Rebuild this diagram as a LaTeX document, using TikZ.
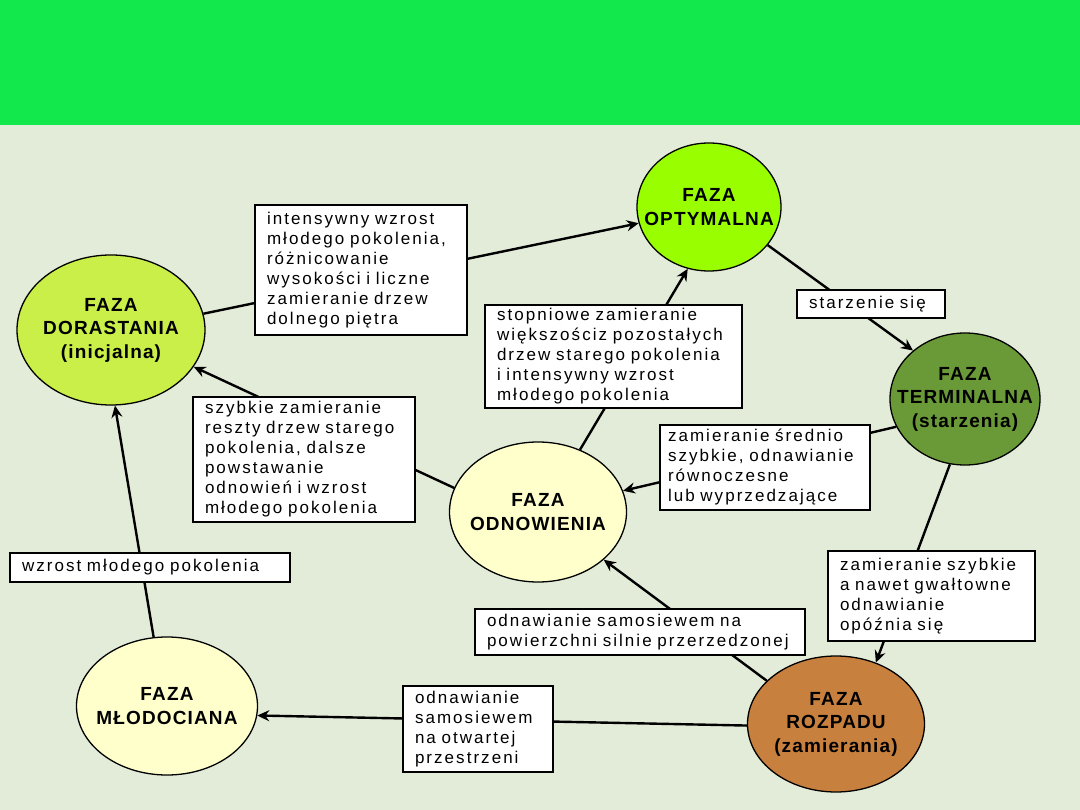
\documentclass[tikz,border=0pt]{standalone}
\usepackage{fontspec}
\setmainfont{Liberation Sans}
\newfontfamily\boxfont[LetterSpace=12,WordSpace=1.6]{Liberation Sans}
\newfontfamily\titlefont[LetterSpace=6]{Liberation Sans}
\usetikzlibrary{shapes.geometric,arrows.meta}
\definecolor{hdr}{HTML}{12E84C}
\definecolor{bgc}{HTML}{E3ECD8}
\definecolor{optc}{HTML}{99FF00}
\definecolor{dorc}{HTML}{C9EF48}
\definecolor{termc}{HTML}{6A9A38}
\definecolor{paleyel}{HTML}{FFFFCC}
\definecolor{rozc}{HTML}{C8803E}
\newcommand\zw[1]{\makebox[0pt]{#1}}
\tikzset{
  phase/.style={ellipse, draw=black, line width=1.3pt, inner sep=0pt, align=center,
    font=\titlefont\bfseries\fontsize{19}{23.5}\selectfont},
  infobox/.style={rectangle, draw=black, line width=1.4pt, fill=white, align=left,
    inner xsep=12pt, inner ysep=0pt, font=\boxfont\fontsize{17}{20}\selectfont,
    execute at begin node={\hyphenpenalty=10000\exhyphenpenalty=10000}},
  conn/.style={line width=2.4pt, draw=black},
  arr/.style={conn, -{Stealth[length=12pt,width=11pt,inset=4pt]}}
}
\begin{document}
\begin{tikzpicture}[x=1pt,y=-1pt]
\useasboundingbox (0,0) rectangle (1080,810);
\fill[bgc] (0,0) rectangle (1080,810);
\fill[hdr] (0,0) rectangle (1080,125);

% phases
\node[phase, fill=optc, minimum width=144pt, minimum height=128pt] (opt) at (709,207) {\zw{FAZA}\\\zw{OPTYMALNA}};
\node[phase, fill=dorc, minimum width=188pt, minimum height=150pt] (dor) at (111,330) {\zw{FAZA}\\\zw{DORASTANIA}\\\zw{(inicjalna)}};
\node[phase, fill=termc, minimum width=150pt, minimum height=132pt] (term) at (965,399) {\zw{FAZA}\\\zw{TERMINALNA}\\\zw{(starzenia)}};
\node[phase, fill=paleyel, minimum width=177pt, minimum height=140pt] (odn) at (538,512) {\zw{FAZA}\\\zw{ODNOWIENIA}};
\node[phase, fill=paleyel, minimum width=181pt, minimum height=138pt] (mlo) at (167,706) {\zw{FAZA}\\\zw{MŁODOCIANA}};
\node[phase, fill=rozc, minimum width=177pt, minimum height=136pt] (roz) at (836,724) {\zw{FAZA}\\\zw{ROZPADU}\\\zw{(zamierania)}};

% connectors
\draw[arr] (dor.10) -- (opt.193);
\draw[arr] (opt.-33) -- (term.137);
\draw[arr] (term.202) -- (odn.14);
\draw[arr] (term.257) -- (roz.57);
\draw[arr] (roz.148) -- (odn.-36);
\draw[arr] (roz.181) -- (mlo.-6);
\draw[arr] (mlo.101) -- (dor.-87);
\draw[arr] (odn.164) -- (dor.-24);
\draw[arr] (odn.56) -- (opt.251);

% boxes
\node[infobox, minimum width=212pt, minimum height=130pt, text width=188pt] (b1) at (361,270)
  {intensywny wzrost\\młodego pokolenia,\\różnicowanie\\wysokości i liczne\\zamieranie drzew\\dolnego piętra};
\node[infobox, minimum width=257pt, minimum height=103pt, text width=233pt] (b2) at (613.5,356.5)
  {stopniowe zamieranie\\większościz pozostałych\\drzew starego pokolenia\\i intensywny wzrost\\młodego pokolenia};
\node[infobox, minimum width=148pt, minimum height=28pt, text width=124pt] (b3) at (871,304)
  {starzenie się};
\node[infobox, minimum width=222pt, minimum height=125pt, text width=198pt] (b4) at (304,459.5)
  {szybkie zamieranie\\reszty drzew starego\\pokolenia, dalsze\\powstawanie\\odnowień i wzrost\\młodego pokolenia};
\node[infobox, minimum width=210pt, minimum height=85pt, inner xsep=8pt, text width=194pt] (b5) at (765,467.5)
  {zamieranie średnio\\szybkie, odnawianie\\równoczesne\\lub wyprzedzające};
\node[infobox, minimum width=280pt, minimum height=29pt, text width=256pt] (b6) at (150,567.5)
  {wzrost młodego pokolenia};
\node[infobox, minimum width=207pt, minimum height=90pt, text width=183pt] (b7) at (931.5,596)
  {zamieranie szybkie\\a nawet gwałtowne\\odnawianie\\opóźnia się};
\node[infobox, minimum width=330pt, minimum height=46pt, text width=306pt] (b8) at (640,632)
  {odnawianie samosiewem na\\powierzchni silnie przerzedzonej};
\node[infobox, minimum width=150pt, minimum height=86pt, text width=126pt] (b9) at (478,729)
  {odnawianie\\samosiewem\\na otwartej\\przestrzeni};
\end{tikzpicture}
\end{document}
